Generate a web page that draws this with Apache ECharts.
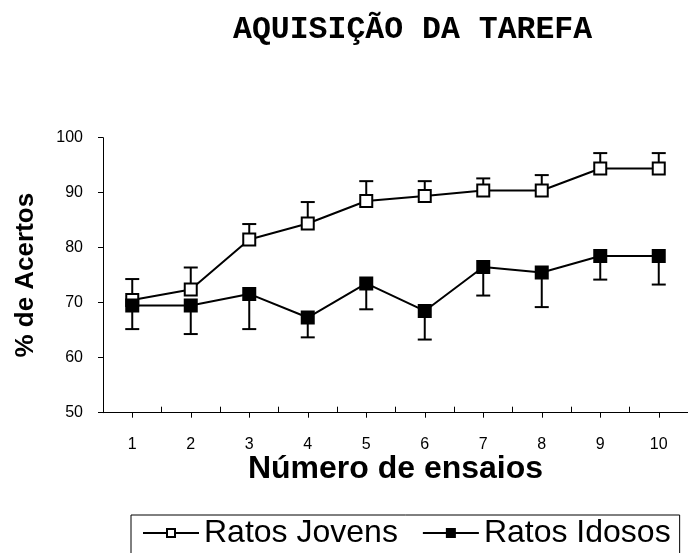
<!DOCTYPE html>
<html>
<head>
<meta charset="utf-8">
<script src="https://cdn.jsdelivr.net/npm/echarts@6/dist/echarts.min.js"></script>
<style>
html,body{margin:0;padding:0;background:#fff;}
#chart{width:688px;height:553px;}
</style>
</head>
<body>
<div id="chart"></div>
<script>
const categories = ['1','2','3','4','5','6','7','8','9','10'];
const jovensMean = [70.5, 72.4, 81.5, 84.4, 88.5, 89.4, 90.4, 90.4, 94.4, 94.4];
const jovensErr  = [3.8, 4.0, 2.8, 3.9, 3.6, 2.7, 2.2, 2.8, 2.8, 2.8];
const idososMean = [69.5, 69.5, 71.6, 67.3, 73.5, 68.5, 76.5, 75.5, 78.5, 78.5];
const idososErr  = [4.3, 5.2, 6.4, 3.6, 4.7, 5.2, 5.2, 6.3, 4.3, 5.2];
const yTicks = [50, 60, 70, 80, 90, 100];
const titleText = 'AQUISIÇÃO DA TAREFA';
const xName = 'Número de ensaios';
const yName = '% de Acertos';
const seriesNames = ['Ratos Jovens', 'Ratos Idosos'];

const FONT = 'Liberation Sans, Arial, sans-serif';

function errData(mean, err, dir) {
  return mean.map((m, i) => [i, m, m + dir * err[i]]);
}
function errRender(params, api) {
  const x = api.value(0);
  const p0 = api.coord([x, api.value(1)]);
  const p1 = api.coord([x, api.value(2)]);
  const hw = 7;
  const style = { stroke: '#000', lineWidth: 2, fill: null };
  return {
    type: 'group',
    children: [
      { type: 'line', shape: { x1: p0[0], y1: p0[1], x2: p1[0], y2: p1[1] }, style: style },
      { type: 'line', shape: { x1: p1[0] - hw, y1: p1[1], x2: p1[0] + hw, y2: p1[1] }, style: style }
    ]
  };
}

const chart = echarts.init(document.getElementById('chart'), null, { renderer: 'canvas' });
chart.setOption({
  animation: false,
  backgroundColor: '#fff',
  title: {
    text: titleText,
    left: 228, top: 9,
    textStyle: { fontFamily: 'Liberation Mono, Courier New, monospace', fontWeight: 'bold', fontSize: 31.5, color: '#000' }
  },
  legend: {
    data: seriesNames,
    left: 131, top: 515,
    padding: [2, 9, 20, 11],
    borderColor: '#000', borderWidth: 1,
    itemWidth: 56, itemHeight: 10, itemGap: 24,
    textStyle: { fontFamily: FONT, fontSize: 32, color: '#000' }
  },
  grid: { left: 103, top: 137.7, right: -4, bottom: 140.3, containLabel: false },
  xAxis: [
    {
      type: 'category', data: categories, boundaryGap: true,
      axisLine: { show: true, lineStyle: { color: '#000', width: 1 } },
      axisTick: { show: true, inside: true, length: 6, lineStyle: { color: '#000' } },
      axisLabel: { show: false },
      splitLine: { show: false }
    },
    {
      type: 'category', data: categories, boundaryGap: true, position: 'bottom',
      axisLine: { show: false },
      axisTick: { show: true, alignWithLabel: true, inside: false, length: 5, lineStyle: { color: '#000' } },
      axisLabel: { show: true, margin: 24, fontFamily: FONT, fontSize: 16, color: '#000' },
      name: xName, nameLocation: 'middle', nameGap: 23,
      nameTextStyle: { fontFamily: FONT, fontSize: 32, fontWeight: 'bold', color: '#000' },
      splitLine: { show: false }
    }
  ],
  yAxis: {
    type: 'value', min: 50, max: 100, interval: 10,
    axisLine: { show: true, lineStyle: { color: '#000', width: 1 } },
    axisTick: { show: true, inside: false, length: 5, lineStyle: { color: '#000' } },
    axisLabel: {
      margin: 20, fontFamily: FONT, fontSize: 16, color: '#000',
      formatter: v => (yTicks.indexOf(v) >= 0 ? String(v) : '')
    },
    splitLine: { show: false },
    name: yName, nameLocation: 'middle', nameRotate: 90, nameGap: 64,
    nameTextStyle: { fontFamily: FONT, fontSize: 26, fontWeight: 'bold', color: '#000' }
  },
  series: [
    {
      type: 'custom', name: 'errJ', renderItem: errRender, data: errData(jovensMean, jovensErr, 1),
      encode: { x: 0, y: [1, 2] }, z: 1, silent: true
    },
    {
      type: 'custom', name: 'errI', renderItem: errRender, data: errData(idososMean, idososErr, -1),
      encode: { x: 0, y: [1, 2] }, z: 1, silent: true
    },
    {
      type: 'line', name: seriesNames[0], data: jovensMean, z: 3,
      symbol: 'rect', symbolSize: 12, showAllSymbol: true,
      lineStyle: { color: '#000', width: 2 },
      itemStyle: { color: '#fff', borderColor: '#000', borderWidth: 2 }
    },
    {
      type: 'line', name: seriesNames[1], data: idososMean, z: 3,
      symbol: 'rect', symbolSize: 12, showAllSymbol: true,
      lineStyle: { color: '#000', width: 2 },
      itemStyle: { color: '#000', borderColor: '#000', borderWidth: 2 }
    }
  ]
});
</script>
</body>
</html>
